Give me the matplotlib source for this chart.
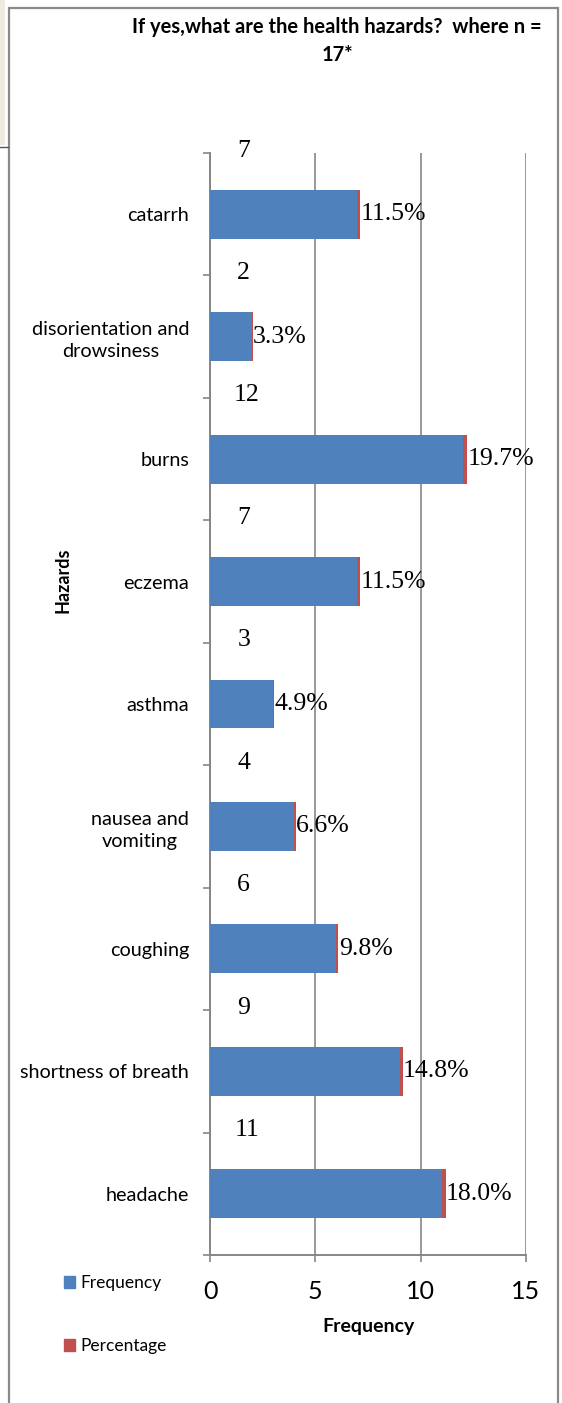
import numpy as np
import matplotlib
matplotlib.use("Agg")
import matplotlib.pyplot as plt
from matplotlib.patches import Patch, Rectangle

plt.rcParams['font.family'] = ['Lato', 'DejaVu Sans']

# ---- data (top to bottom as in the chart) ----
categories = ["catarrh", "disorientation and\ndrowsiness", "burns", "eczema", "asthma",
              "nausea and\nvomiting", "coughing", "shortness of breath", "headache"]
frequency = [7, 2, 12, 7, 3, 4, 6, 9, 11]
percentage = [11.5, 3.3, 19.7, 11.5, 4.9, 6.6, 9.8, 14.8, 18.0]
x_ticks = [0, 5, 10, 15]
title = "If yes,what are the health hazards?  where n =\n17*"

BLUE = "#4F81BD"
RED = "#C0504D"
GRAY = "#868686"
SERIF = ["Liberation Serif", "DejaVu Serif"]

W, H = 562, 1403
fig = plt.figure(figsize=(W / 100, H / 100), dpi=100)
fig.patch.set_facecolor("white")

ax = fig.add_axes([210 / W, 1 - 1255 / H, 316 / W, 1102 / H])

n = len(categories)
y = np.arange(n)
freq = np.array(frequency, dtype=float)
pct = np.array(percentage, dtype=float)

ax.barh(y, freq, height=0.4, color=BLUE, zorder=3, label="Frequency")
ax.barh(y, pct / 100.0, left=freq, height=0.4, color=RED, zorder=3, label="Percentage")

for i in range(n):
    s = str(frequency[i])
    ax.text(1.6 + 0.15 * (len(s) - 1), y[i] - 0.52, s, ha="center", va="center",
            fontsize=18.5, family=SERIF, color="black", clip_on=False, zorder=4)
    ax.text(freq[i] + pct[i] / 100.0 + 0.02, y[i], f"{pct[i]:.1f}%", ha="left", va="center",
            fontsize=18.5, family=SERIF, color="black", clip_on=False, zorder=4)

ax.set_xlim(0, 15)
ax.set_ylim(n - 0.5, -0.5)
ax.set_xticks(x_ticks)
ax.set_xticklabels([str(t) for t in x_ticks])
ax.set_yticks(np.arange(n + 1) - 0.5)
ax.set_yticklabels([])
ax.set_yticks(y, labels=categories, minor=True)
for t in ax.get_yticklabels(minor=True):
    t.set_multialignment("center")
    t.set_linespacing(1.36)

ax.tick_params(axis="y", which="major", direction="out", length=5, width=1.2, color=GRAY)
ax.tick_params(axis="y", which="minor", length=0, pad=15, labelsize=14.3)
ax.tick_params(axis="x", direction="out", length=5, width=1.2, color=GRAY, pad=13, labelsize=18)

ax.grid(axis="x", color=GRAY, lw=1.2, zorder=0)
ax.set_axisbelow(True)
for side in ("top", "right"):
    ax.spines[side].set_visible(False)
for side in ("left", "bottom"):
    ax.spines[side].set_color(GRAY)
    ax.spines[side].set_linewidth(1.4)

ax.set_xlabel("Frequency", fontsize=14, fontweight="bold")
ax.xaxis.set_label_coords(0.5, -(1318 - 1255) / 1102)
ax.set_ylabel("Hazards", fontsize=13, fontweight="bold")
ax.yaxis.set_label_coords((71 - 210) / 316, 1 - (580 - 153) / 1102)

fig.text(337 / W, 1 - 41 / H, title, ha="center", va="center", multialignment="center",
         fontsize=14.5, fontweight="bold", linespacing=1.45)

handles = [Patch(color=BLUE, label="Frequency"), Patch(color=RED, label="Percentage")]
fig.legend(handles=handles, loc="center left", bbox_to_anchor=(64 / W, 1 - 1314.5 / H),
           frameon=False, fontsize=12.5, handlelength=0.65, handleheight=0.65,
           handletextpad=0.3, labelspacing=2.7, borderpad=0, borderaxespad=0)

# chart frame
fig.patches.append(Rectangle((9 / W, -0.01), (558 - 9) / W, 1.01 - 8 / H, transform=fig.transFigure,
                             fill=False, ec="#8a8a8a", lw=1.6))
# left-top cropped artefact
fig.patches.append(Rectangle((0, 1 - 145 / H), 5 / W, 145 / H, transform=fig.transFigure,
                             color="#efeae0", lw=0))
fig.add_artist(plt.Line2D([0, 8 / W], [1 - 147 / H, 1 - 147 / H], transform=fig.transFigure,
                          color="#555555", lw=1))

fig.savefig("out.png", dpi=100)
